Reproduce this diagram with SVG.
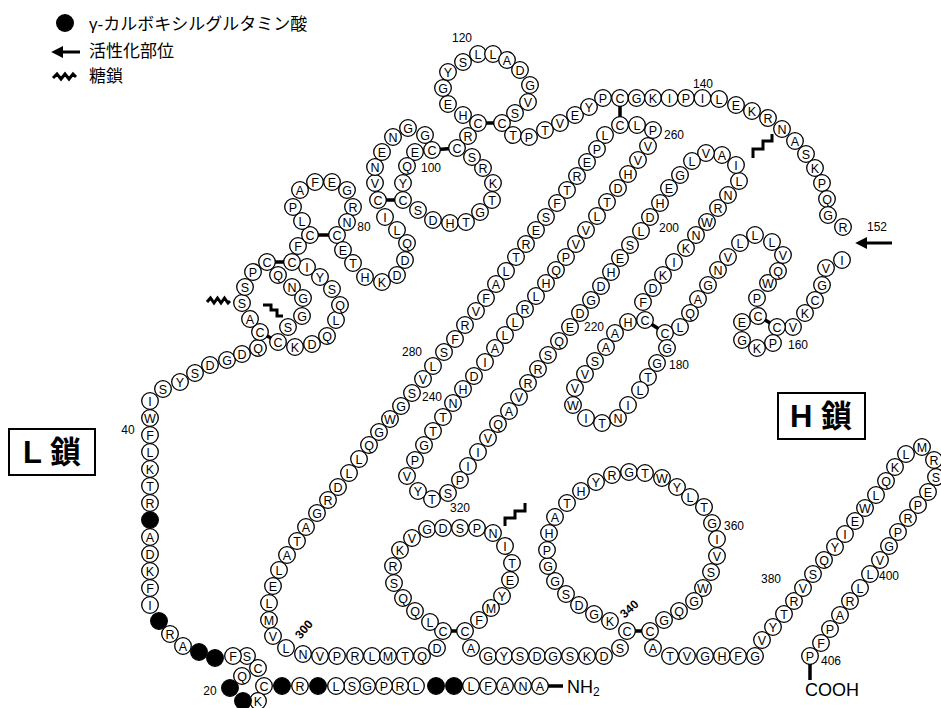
<svg xmlns="http://www.w3.org/2000/svg" width="941" height="708" viewBox="0 0 941 708">
<style>
.res circle{fill:#fff;stroke:#000;stroke-width:1.3}
.res .gla circle{fill:#000}
.res text{font-family:"Liberation Sans",Arial,sans-serif;font-size:12.5px;text-anchor:middle;fill:#000}
.lbl{font-family:"Liberation Sans",Arial,sans-serif;font-size:12px;fill:#000;text-anchor:middle}
.leg{font-family:"Liberation Sans","Noto Sans CJK JP",sans-serif;font-size:17px;fill:#000}
.box{fill:none;stroke:#000;stroke-width:2}
.boxt{font-family:"Liberation Sans","Noto Sans CJK JP",sans-serif;font-size:31px;font-weight:bold;text-anchor:middle}
.ss{stroke:#000;stroke-width:3.5}
.gly{fill:none;stroke:#000;stroke-width:3}
.end{font-family:"Liberation Sans",Arial,sans-serif;font-size:18px}
</style>
<defs>
<marker id="ah" viewBox="0 0 10 10" refX="1" refY="5" markerWidth="4" markerHeight="4" orient="auto-start-reverse"><path d="M0,0 L10,5 L0,10 z" fill="#000"/></marker>
</defs>
<g id="legend">
<circle cx="65" cy="23" r="9" fill="#000"/>
<text class="leg" x="89" y="30">γ-カルボキシルグルタミン酸</text>
<line x1="80" y1="52" x2="62" y2="52" stroke="#000" stroke-width="3" marker-end="url(#ah)"/>
<text class="leg" x="89" y="57">活性化部位</text>
<path class="gly" d="M53,78 l4,-4 l4,5 l4,-5 l4,5 l4,-5 l3,3" stroke-width="2.5"/>
<text class="leg" x="89" y="82">糖鎖</text>
</g>
<g id="L-box"><rect class="box" x="9" y="429" width="86" height="46"/><text class="boxt" x="52" y="463">L 鎖</text></g>
<g id="H-box"><rect class="box" x="778" y="393" width="87" height="46"/><text class="boxt" x="821" y="427">H 鎖</text></g>
<g id="connectors">
<line class="ss" x1="260" y1="332" x2="278" y2="342"/>
<line class="ss" x1="267" y1="262" x2="292" y2="262"/>
<line class="ss" x1="310" y1="235" x2="337" y2="235"/>
<line class="ss" x1="378" y1="200" x2="403" y2="200"/>
<line class="ss" x1="432" y1="150" x2="457" y2="148"/>
<line class="ss" x1="478" y1="123" x2="502" y2="123"/>
<line class="ss" x1="620" y1="98" x2="620" y2="125"/>
<line class="ss" x1="777" y1="327" x2="758" y2="316"/>
<line class="ss" x1="665" y1="333" x2="645" y2="320"/>
<line class="ss" x1="443" y1="631" x2="465" y2="631"/>
<line class="ss" x1="627" y1="631" x2="650" y2="631"/>
<line class="ss" x1="546" y1="686" x2="563" y2="686"/>
<line class="ss" x1="810" y1="663" x2="810" y2="680"/>
<line x1="892" y1="243" x2="866" y2="243" stroke="#000" stroke-width="3" marker-end="url(#ah)"/>
</g>
<g id="glycans">
<path class="gly" d="M207,302 l3.5,-4 l3.5,5 l3.5,-5 l3.5,5 l3.5,-5 l3.5,5 l2,-2" stroke-width="2.5"/>
<path class="gly" d="M263,305 H271 V310 H277 V316 H283"/>
<path class="gly" d="M753,158 V149 H763 V141 H772 V134"/>
<path class="gly" d="M505,526 V518 H515 V511 H525 V503"/>
</g>
<g id="ends">
<text class="end" x="567" y="693">NH<tspan font-size="12" dy="3">2</tspan></text>
<text class="end" x="805" y="696">COOH</text>
</g>
<g id="labels" class="lbl">
<text x="462" y="42">120</text>
<text x="703" y="88">140</text>
<text x="877" y="231">152</text>
<text x="798" y="349">160</text>
<text x="679" y="369">180</text>
<text x="669" y="232">200</text>
<text x="594" y="331">220</text>
<text x="432" y="401">240</text>
<text x="674" y="139">260</text>
<text x="412" y="356">280</text>
<text x="0" y="0" transform="translate(307,632) rotate(-50)" font-weight="bold">300</text>
<text x="460" y="512">320</text>
<text x="0" y="0" transform="translate(632,612) rotate(-42)" font-weight="bold">340</text>
<text x="734" y="530">360</text>
<text x="771" y="583">380</text>
<text x="889" y="580">400</text>
<text x="831" y="665">406</text>
<text x="431" y="172">100</text>
<text x="364" y="231">80</text>
<text x="128" y="434">40</text>
<text x="210" y="695">20</text>
</g>
<g id="residues" class="res">
<g id="r1"><circle cx="540" cy="686" r="8.3"/><text x="540" y="690.5">A</text></g>
<g id="r2"><circle cx="523" cy="686" r="8.3"/><text x="523" y="690.5">N</text></g>
<g id="r3"><circle cx="505" cy="686" r="8.3"/><text x="505" y="690.5">A</text></g>
<g id="r4"><circle cx="488" cy="686" r="8.3"/><text x="488" y="690.5">F</text></g>
<g id="r5"><circle cx="471" cy="686" r="8.3"/><text x="471" y="690.5">L</text></g>
<g id="r6" class="gla"><circle cx="454" cy="686" r="8.3"/></g>
<g id="r7" class="gla"><circle cx="436" cy="686" r="8.3"/></g>
<g id="r8"><circle cx="416" cy="686" r="8.3"/><text x="416" y="690.5">L</text></g>
<g id="r9"><circle cx="400" cy="686" r="8.3"/><text x="400" y="690.5">R</text></g>
<g id="r10"><circle cx="384" cy="686" r="8.3"/><text x="384" y="690.5">P</text></g>
<g id="r11"><circle cx="367" cy="686" r="8.3"/><text x="367" y="690.5">G</text></g>
<g id="r12"><circle cx="352" cy="686" r="8.3"/><text x="352" y="690.5">S</text></g>
<g id="r13"><circle cx="336" cy="686" r="8.3"/><text x="336" y="690.5">L</text></g>
<g id="r14" class="gla"><circle cx="318" cy="686" r="8.3"/></g>
<g id="r15"><circle cx="300" cy="686" r="8.3"/><text x="300" y="690.5">R</text></g>
<g id="r16" class="gla"><circle cx="282" cy="686" r="8.3"/></g>
<g id="r17"><circle cx="264" cy="686" r="8.3"/><text x="264" y="690.5">C</text></g>
<g id="r18"><circle cx="258" cy="701" r="8.3"/><text x="258" y="705.5">K</text></g>
<g id="r19" class="gla"><circle cx="243" cy="701" r="8.3"/></g>
<g id="r20" class="gla"><circle cx="230" cy="688" r="8.3"/></g>
<g id="r21"><circle cx="242" cy="676" r="8.3"/><text x="242" y="680.5">Q</text></g>
<g id="r22"><circle cx="258" cy="668" r="8.3"/><text x="258" y="672.5">C</text></g>
<g id="r23"><circle cx="247" cy="656" r="8.3"/><text x="247" y="660.5">S</text></g>
<g id="r24"><circle cx="233" cy="656" r="8.3"/><text x="233" y="660.5">F</text></g>
<g id="r25" class="gla"><circle cx="215" cy="658" r="8.3"/></g>
<g id="r26" class="gla"><circle cx="199" cy="652" r="8.3"/></g>
<g id="r27"><circle cx="183" cy="646" r="8.3"/><text x="183" y="650.5">A</text></g>
<g id="r28"><circle cx="170" cy="634" r="8.3"/><text x="170" y="638.5">R</text></g>
<g id="r29" class="gla"><circle cx="159" cy="621" r="8.3"/></g>
<g id="r30"><circle cx="150" cy="605" r="8.3"/><text x="150" y="609.5">I</text></g>
<g id="r31"><circle cx="150" cy="588" r="8.3"/><text x="150" y="592.5">F</text></g>
<g id="r32"><circle cx="150" cy="571" r="8.3"/><text x="150" y="575.5">K</text></g>
<g id="r33"><circle cx="150" cy="554" r="8.3"/><text x="150" y="558.5">D</text></g>
<g id="r34"><circle cx="150" cy="537" r="8.3"/><text x="150" y="541.5">A</text></g>
<g id="r35" class="gla"><circle cx="150" cy="520" r="8.3"/></g>
<g id="r36"><circle cx="150" cy="503" r="8.3"/><text x="150" y="507.5">R</text></g>
<g id="r37"><circle cx="150" cy="486" r="8.3"/><text x="150" y="490.5">T</text></g>
<g id="r38"><circle cx="150" cy="469" r="8.3"/><text x="150" y="473.5">K</text></g>
<g id="r39"><circle cx="150" cy="452" r="8.3"/><text x="150" y="456.5">L</text></g>
<g id="r40"><circle cx="150" cy="435" r="8.3"/><text x="150" y="439.5">F</text></g>
<g id="r41"><circle cx="150" cy="418" r="8.3"/><text x="150" y="422.5">W</text></g>
<g id="r42"><circle cx="150" cy="401" r="8.3"/><text x="150" y="405.5">I</text></g>
<g id="r43"><circle cx="163" cy="389" r="8.3"/><text x="163" y="393.5">S</text></g>
<g id="r44"><circle cx="180" cy="382" r="8.3"/><text x="180" y="386.5">Y</text></g>
<g id="r45"><circle cx="195" cy="373" r="8.3"/><text x="195" y="377.5">S</text></g>
<g id="r46"><circle cx="210" cy="365" r="8.3"/><text x="210" y="369.5">D</text></g>
<g id="r47"><circle cx="227" cy="360" r="8.3"/><text x="227" y="364.5">G</text></g>
<g id="r48"><circle cx="242" cy="354" r="8.3"/><text x="242" y="358.5">D</text></g>
<g id="r49"><circle cx="258" cy="348" r="8.3"/><text x="258" y="352.5">Q</text></g>
<g id="r50"><circle cx="260" cy="332" r="8.3"/><text x="260" y="336.5">C</text></g>
<g id="r51"><circle cx="250" cy="319" r="8.3"/><text x="250" y="323.5">A</text></g>
<g id="r52"><circle cx="242" cy="303" r="8.3"/><text x="242" y="307.5">S</text></g>
<g id="r53"><circle cx="245" cy="287" r="8.3"/><text x="245" y="291.5">S</text></g>
<g id="r54"><circle cx="253" cy="272" r="8.3"/><text x="253" y="276.5">P</text></g>
<g id="r55"><circle cx="267" cy="262" r="8.3"/><text x="267" y="266.5">C</text></g>
<g id="r56"><circle cx="278" cy="275" r="8.3"/><text x="278" y="279.5">Q</text></g>
<g id="r57"><circle cx="292" cy="287" r="8.3"/><text x="292" y="291.5">N</text></g>
<g id="r58"><circle cx="303" cy="298" r="8.3"/><text x="303" y="302.5">G</text></g>
<g id="r59"><circle cx="302" cy="316" r="8.3"/><text x="302" y="320.5">G</text></g>
<g id="r60"><circle cx="288" cy="327" r="8.3"/><text x="288" y="331.5">S</text></g>
<g id="r61"><circle cx="278" cy="342" r="8.3"/><text x="278" y="346.5">C</text></g>
<g id="r62"><circle cx="295" cy="347" r="8.3"/><text x="295" y="351.5">K</text></g>
<g id="r63"><circle cx="312" cy="344" r="8.3"/><text x="312" y="348.5">D</text></g>
<g id="r64"><circle cx="327" cy="336" r="8.3"/><text x="327" y="340.5">Q</text></g>
<g id="r65"><circle cx="336" cy="320" r="8.3"/><text x="336" y="324.5">L</text></g>
<g id="r66"><circle cx="340" cy="305" r="8.3"/><text x="340" y="309.5">Q</text></g>
<g id="r67"><circle cx="332" cy="289" r="8.3"/><text x="332" y="293.5">S</text></g>
<g id="r68"><circle cx="320" cy="277" r="8.3"/><text x="320" y="281.5">Y</text></g>
<g id="r69"><circle cx="307" cy="267" r="8.3"/><text x="307" y="271.5">I</text></g>
<g id="r70"><circle cx="292" cy="262" r="8.3"/><text x="292" y="266.5">C</text></g>
<g id="r71"><circle cx="298" cy="246" r="8.3"/><text x="298" y="250.5">F</text></g>
<g id="r72"><circle cx="310" cy="235" r="8.3"/><text x="310" y="239.5">C</text></g>
<g id="r73"><circle cx="302" cy="221" r="8.3"/><text x="302" y="225.5">L</text></g>
<g id="r74"><circle cx="293" cy="207" r="8.3"/><text x="293" y="211.5">P</text></g>
<g id="r75"><circle cx="300" cy="190" r="8.3"/><text x="300" y="194.5">A</text></g>
<g id="r76"><circle cx="315" cy="182" r="8.3"/><text x="315" y="186.5">F</text></g>
<g id="r77"><circle cx="332" cy="182" r="8.3"/><text x="332" y="186.5">E</text></g>
<g id="r78"><circle cx="347" cy="190" r="8.3"/><text x="347" y="194.5">G</text></g>
<g id="r79"><circle cx="353" cy="207" r="8.3"/><text x="353" y="211.5">R</text></g>
<g id="r80"><circle cx="347" cy="222" r="8.3"/><text x="347" y="226.5">N</text></g>
<g id="r81"><circle cx="337" cy="235" r="8.3"/><text x="337" y="239.5">C</text></g>
<g id="r82"><circle cx="343" cy="250" r="8.3"/><text x="343" y="254.5">E</text></g>
<g id="r83"><circle cx="353" cy="263" r="8.3"/><text x="353" y="267.5">T</text></g>
<g id="r84"><circle cx="365" cy="277" r="8.3"/><text x="365" y="281.5">H</text></g>
<g id="r85"><circle cx="382" cy="282" r="8.3"/><text x="382" y="286.5">K</text></g>
<g id="r86"><circle cx="397" cy="275" r="8.3"/><text x="397" y="279.5">D</text></g>
<g id="r87"><circle cx="405" cy="260" r="8.3"/><text x="405" y="264.5">D</text></g>
<g id="r88"><circle cx="407" cy="243" r="8.3"/><text x="407" y="247.5">Q</text></g>
<g id="r89"><circle cx="397" cy="230" r="8.3"/><text x="397" y="234.5">L</text></g>
<g id="r90"><circle cx="385" cy="217" r="8.3"/><text x="385" y="221.5">I</text></g>
<g id="r91"><circle cx="378" cy="200" r="8.3"/><text x="378" y="204.5">C</text></g>
<g id="r92"><circle cx="375" cy="183" r="8.3"/><text x="375" y="187.5">V</text></g>
<g id="r93"><circle cx="375" cy="167" r="8.3"/><text x="375" y="171.5">N</text></g>
<g id="r94"><circle cx="382" cy="152" r="8.3"/><text x="382" y="156.5">E</text></g>
<g id="r95"><circle cx="393" cy="137" r="8.3"/><text x="393" y="141.5">N</text></g>
<g id="r96"><circle cx="408" cy="128" r="8.3"/><text x="408" y="132.5">G</text></g>
<g id="r97"><circle cx="425" cy="135" r="8.3"/><text x="425" y="139.5">G</text></g>
<g id="r98"><circle cx="432" cy="150" r="8.3"/><text x="432" y="154.5">C</text></g>
<g id="r99"><circle cx="415" cy="152" r="8.3"/><text x="415" y="156.5">E</text></g>
<g id="r100"><circle cx="407" cy="166" r="8.3"/><text x="407" y="170.5">Q</text></g>
<g id="r101"><circle cx="403" cy="183" r="8.3"/><text x="403" y="187.5">Y</text></g>
<g id="r102"><circle cx="403" cy="200" r="8.3"/><text x="403" y="204.5">C</text></g>
<g id="r103"><circle cx="418" cy="210" r="8.3"/><text x="418" y="214.5">S</text></g>
<g id="r104"><circle cx="433" cy="220" r="8.3"/><text x="433" y="224.5">D</text></g>
<g id="r105"><circle cx="450" cy="223" r="8.3"/><text x="450" y="227.5">H</text></g>
<g id="r106"><circle cx="466" cy="222" r="8.3"/><text x="466" y="226.5">T</text></g>
<g id="r107"><circle cx="480" cy="212" r="8.3"/><text x="480" y="216.5">G</text></g>
<g id="r108"><circle cx="492" cy="200" r="8.3"/><text x="492" y="204.5">T</text></g>
<g id="r109"><circle cx="493" cy="183" r="8.3"/><text x="493" y="187.5">K</text></g>
<g id="r110"><circle cx="483" cy="168" r="8.3"/><text x="483" y="172.5">R</text></g>
<g id="r111"><circle cx="472" cy="157" r="8.3"/><text x="472" y="161.5">S</text></g>
<g id="r112"><circle cx="457" cy="148" r="8.3"/><text x="457" y="152.5">C</text></g>
<g id="r113"><circle cx="468" cy="136" r="8.3"/><text x="468" y="140.5">R</text></g>
<g id="r114"><circle cx="478" cy="123" r="8.3"/><text x="478" y="127.5">C</text></g>
<g id="r115"><circle cx="463" cy="115" r="8.3"/><text x="463" y="119.5">H</text></g>
<g id="r116"><circle cx="448" cy="104" r="8.3"/><text x="448" y="108.5">E</text></g>
<g id="r117"><circle cx="443" cy="88" r="8.3"/><text x="443" y="92.5">G</text></g>
<g id="r118"><circle cx="448" cy="72" r="8.3"/><text x="448" y="76.5">Y</text></g>
<g id="r119"><circle cx="463" cy="62" r="8.3"/><text x="463" y="66.5">S</text></g>
<g id="r120"><circle cx="478" cy="54" r="8.3"/><text x="478" y="58.5">L</text></g>
<g id="r121"><circle cx="493" cy="54" r="8.3"/><text x="493" y="58.5">L</text></g>
<g id="r122"><circle cx="507" cy="60" r="8.3"/><text x="507" y="64.5">A</text></g>
<g id="r123"><circle cx="520" cy="70" r="8.3"/><text x="520" y="74.5">D</text></g>
<g id="r124"><circle cx="530" cy="85" r="8.3"/><text x="530" y="89.5">G</text></g>
<g id="r125"><circle cx="528" cy="102" r="8.3"/><text x="528" y="106.5">V</text></g>
<g id="r126"><circle cx="515" cy="113" r="8.3"/><text x="515" y="117.5">S</text></g>
<g id="r127"><circle cx="502" cy="123" r="8.3"/><text x="502" y="127.5">C</text></g>
<g id="r128"><circle cx="513" cy="135" r="8.3"/><text x="513" y="139.5">T</text></g>
<g id="r129"><circle cx="529" cy="137" r="8.3"/><text x="529" y="141.5">P</text></g>
<g id="r130"><circle cx="545" cy="130" r="8.3"/><text x="545" y="134.5">T</text></g>
<g id="r131"><circle cx="560" cy="123" r="8.3"/><text x="560" y="127.5">V</text></g>
<g id="r132"><circle cx="575" cy="115" r="8.3"/><text x="575" y="119.5">E</text></g>
<g id="r133"><circle cx="589" cy="107" r="8.3"/><text x="589" y="111.5">Y</text></g>
<g id="r134"><circle cx="603" cy="98" r="8.3"/><text x="603" y="102.5">P</text></g>
<g id="r135"><circle cx="620" cy="98" r="8.3"/><text x="620" y="102.5">C</text></g>
<g id="r136"><circle cx="636.5" cy="98" r="8.3"/><text x="636.5" y="102.5">G</text></g>
<g id="r137"><circle cx="653" cy="98" r="8.3"/><text x="653" y="102.5">K</text></g>
<g id="r138"><circle cx="669.5" cy="98" r="8.3"/><text x="669.5" y="102.5">I</text></g>
<g id="r139"><circle cx="686" cy="98" r="8.3"/><text x="686" y="102.5">P</text></g>
<g id="r140"><circle cx="702.5" cy="98" r="8.3"/><text x="702.5" y="102.5">I</text></g>
<g id="r141"><circle cx="719" cy="99" r="8.3"/><text x="719" y="103.5">L</text></g>
<g id="r142"><circle cx="736" cy="105" r="8.3"/><text x="736" y="109.5">E</text></g>
<g id="r143"><circle cx="752" cy="111" r="8.3"/><text x="752" y="115.5">K</text></g>
<g id="r144"><circle cx="768" cy="118" r="8.3"/><text x="768" y="122.5">R</text></g>
<g id="r145"><circle cx="782" cy="129" r="8.3"/><text x="782" y="133.5">N</text></g>
<g id="r146"><circle cx="795" cy="141" r="8.3"/><text x="795" y="145.5">A</text></g>
<g id="r147"><circle cx="806" cy="154" r="8.3"/><text x="806" y="158.5">S</text></g>
<g id="r148"><circle cx="815" cy="168" r="8.3"/><text x="815" y="172.5">K</text></g>
<g id="r149"><circle cx="822" cy="183" r="8.3"/><text x="822" y="187.5">P</text></g>
<g id="r150"><circle cx="827" cy="199" r="8.3"/><text x="827" y="203.5">Q</text></g>
<g id="r151"><circle cx="828" cy="215" r="8.3"/><text x="828" y="219.5">G</text></g>
<g id="r152"><circle cx="843" cy="227" r="8.3"/><text x="843" y="231.5">R</text></g>
<g id="r153"><circle cx="842" cy="260" r="8.3"/><text x="842" y="264.5">I</text></g>
<g id="r154"><circle cx="826" cy="268" r="8.3"/><text x="826" y="272.5">V</text></g>
<g id="r155"><circle cx="822" cy="285" r="8.3"/><text x="822" y="289.5">G</text></g>
<g id="r156"><circle cx="815" cy="300" r="8.3"/><text x="815" y="304.5">C</text></g>
<g id="r157"><circle cx="805" cy="313" r="8.3"/><text x="805" y="317.5">K</text></g>
<g id="r158"><circle cx="793" cy="327" r="8.3"/><text x="793" y="331.5">V</text></g>
<g id="r159"><circle cx="777" cy="327" r="8.3"/><text x="777" y="331.5">C</text></g>
<g id="r160"><circle cx="773" cy="343" r="8.3"/><text x="773" y="347.5">P</text></g>
<g id="r161"><circle cx="757" cy="348" r="8.3"/><text x="757" y="352.5">K</text></g>
<g id="r162"><circle cx="742" cy="340" r="8.3"/><text x="742" y="344.5">G</text></g>
<g id="r163"><circle cx="742" cy="322" r="8.3"/><text x="742" y="326.5">E</text></g>
<g id="r164"><circle cx="758" cy="316" r="8.3"/><text x="758" y="320.5">C</text></g>
<g id="r165"><circle cx="757" cy="298" r="8.3"/><text x="757" y="302.5">P</text></g>
<g id="r166"><circle cx="768" cy="283" r="8.3"/><text x="768" y="287.5">W</text></g>
<g id="r167"><circle cx="778" cy="271" r="8.3"/><text x="778" y="275.5">Q</text></g>
<g id="r168"><circle cx="783" cy="255" r="8.3"/><text x="783" y="259.5">V</text></g>
<g id="r169"><circle cx="772" cy="242" r="8.3"/><text x="772" y="246.5">L</text></g>
<g id="r170"><circle cx="755" cy="235" r="8.3"/><text x="755" y="239.5">L</text></g>
<g id="r171"><circle cx="740" cy="243" r="8.3"/><text x="740" y="247.5">L</text></g>
<g id="r172"><circle cx="728" cy="257" r="8.3"/><text x="728" y="261.5">V</text></g>
<g id="r173"><circle cx="718" cy="270" r="8.3"/><text x="718" y="274.5">N</text></g>
<g id="r174"><circle cx="708" cy="285" r="8.3"/><text x="708" y="289.5">G</text></g>
<g id="r175"><circle cx="698" cy="299" r="8.3"/><text x="698" y="303.5">A</text></g>
<g id="r176"><circle cx="690" cy="313" r="8.3"/><text x="690" y="317.5">Q</text></g>
<g id="r177"><circle cx="680" cy="327" r="8.3"/><text x="680" y="331.5">L</text></g>
<g id="r178"><circle cx="665" cy="333" r="8.3"/><text x="665" y="337.5">C</text></g>
<g id="r179"><circle cx="667" cy="348" r="8.3"/><text x="667" y="352.5">G</text></g>
<g id="r180"><circle cx="657" cy="363" r="8.3"/><text x="657" y="367.5">G</text></g>
<g id="r181"><circle cx="648" cy="377" r="8.3"/><text x="648" y="381.5">T</text></g>
<g id="r182"><circle cx="640" cy="390" r="8.3"/><text x="640" y="394.5">L</text></g>
<g id="r183"><circle cx="628" cy="405" r="8.3"/><text x="628" y="409.5">I</text></g>
<g id="r184"><circle cx="618" cy="418" r="8.3"/><text x="618" y="422.5">N</text></g>
<g id="r185"><circle cx="602" cy="423" r="8.3"/><text x="602" y="427.5">T</text></g>
<g id="r186"><circle cx="586" cy="418" r="8.3"/><text x="586" y="422.5">I</text></g>
<g id="r187"><circle cx="573" cy="405" r="8.3"/><text x="573" y="409.5">W</text></g>
<g id="r188"><circle cx="575" cy="388" r="8.3"/><text x="575" y="392.5">V</text></g>
<g id="r189"><circle cx="585" cy="374" r="8.3"/><text x="585" y="378.5">V</text></g>
<g id="r190"><circle cx="595" cy="361" r="8.3"/><text x="595" y="365.5">S</text></g>
<g id="r191"><circle cx="606" cy="347" r="8.3"/><text x="606" y="351.5">A</text></g>
<g id="r192"><circle cx="615" cy="333" r="8.3"/><text x="615" y="337.5">A</text></g>
<g id="r193"><circle cx="628" cy="322" r="8.3"/><text x="628" y="326.5">H</text></g>
<g id="r194"><circle cx="645" cy="320" r="8.3"/><text x="645" y="324.5">C</text></g>
<g id="r195"><circle cx="643" cy="302" r="8.3"/><text x="643" y="306.5">F</text></g>
<g id="r196"><circle cx="653" cy="288" r="8.3"/><text x="653" y="292.5">D</text></g>
<g id="r197"><circle cx="663" cy="275" r="8.3"/><text x="663" y="279.5">K</text></g>
<g id="r198"><circle cx="674" cy="262" r="8.3"/><text x="674" y="266.5">I</text></g>
<g id="r199"><circle cx="686" cy="248" r="8.3"/><text x="686" y="252.5">K</text></g>
<g id="r200"><circle cx="696" cy="235" r="8.3"/><text x="696" y="239.5">N</text></g>
<g id="r201"><circle cx="707" cy="222" r="8.3"/><text x="707" y="226.5">W</text></g>
<g id="r202"><circle cx="718" cy="208" r="8.3"/><text x="718" y="212.5">R</text></g>
<g id="r203"><circle cx="728" cy="195" r="8.3"/><text x="728" y="199.5">N</text></g>
<g id="r204"><circle cx="739" cy="181" r="8.3"/><text x="739" y="185.5">L</text></g>
<g id="r205"><circle cx="736" cy="165" r="8.3"/><text x="736" y="169.5">I</text></g>
<g id="r206"><circle cx="722" cy="155" r="8.3"/><text x="722" y="159.5">A</text></g>
<g id="r207"><circle cx="706" cy="153" r="8.3"/><text x="706" y="157.5">V</text></g>
<g id="r208"><circle cx="692" cy="161" r="8.3"/><text x="692" y="165.5">L</text></g>
<g id="r209"><circle cx="680" cy="175" r="8.3"/><text x="680" y="179.5">G</text></g>
<g id="r210"><circle cx="669" cy="188" r="8.3"/><text x="669" y="192.5">E</text></g>
<g id="r211"><circle cx="660" cy="203" r="8.3"/><text x="660" y="207.5">H</text></g>
<g id="r212"><circle cx="650" cy="217" r="8.3"/><text x="650" y="221.5">D</text></g>
<g id="r213"><circle cx="641" cy="231" r="8.3"/><text x="641" y="235.5">L</text></g>
<g id="r214"><circle cx="630" cy="245" r="8.3"/><text x="630" y="249.5">S</text></g>
<g id="r215"><circle cx="620" cy="258" r="8.3"/><text x="620" y="262.5">E</text></g>
<g id="r216"><circle cx="611" cy="272" r="8.3"/><text x="611" y="276.5">H</text></g>
<g id="r217"><circle cx="601" cy="286" r="8.3"/><text x="601" y="290.5">D</text></g>
<g id="r218"><circle cx="591" cy="300" r="8.3"/><text x="591" y="304.5">G</text></g>
<g id="r219"><circle cx="580" cy="313" r="8.3"/><text x="580" y="317.5">D</text></g>
<g id="r220"><circle cx="570" cy="327" r="8.3"/><text x="570" y="331.5">E</text></g>
<g id="r221"><circle cx="559" cy="341" r="8.3"/><text x="559" y="345.5">Q</text></g>
<g id="r222"><circle cx="548" cy="355" r="8.3"/><text x="548" y="359.5">S</text></g>
<g id="r223"><circle cx="538" cy="369" r="8.3"/><text x="538" y="373.5">R</text></g>
<g id="r224"><circle cx="528" cy="383" r="8.3"/><text x="528" y="387.5">R</text></g>
<g id="r225"><circle cx="519" cy="397" r="8.3"/><text x="519" y="401.5">V</text></g>
<g id="r226"><circle cx="509" cy="411" r="8.3"/><text x="509" y="415.5">A</text></g>
<g id="r227"><circle cx="498" cy="424" r="8.3"/><text x="498" y="428.5">Q</text></g>
<g id="r228"><circle cx="488" cy="438" r="8.3"/><text x="488" y="442.5">V</text></g>
<g id="r229"><circle cx="478" cy="452" r="8.3"/><text x="478" y="456.5">I</text></g>
<g id="r230"><circle cx="468" cy="466" r="8.3"/><text x="468" y="470.5">I</text></g>
<g id="r231"><circle cx="460" cy="480" r="8.3"/><text x="460" y="484.5">P</text></g>
<g id="r232"><circle cx="448" cy="493" r="8.3"/><text x="448" y="497.5">S</text></g>
<g id="r233"><circle cx="432" cy="499" r="8.3"/><text x="432" y="503.5">T</text></g>
<g id="r234"><circle cx="418" cy="491" r="8.3"/><text x="418" y="495.5">Y</text></g>
<g id="r235"><circle cx="407" cy="476" r="8.3"/><text x="407" y="480.5">V</text></g>
<g id="r236"><circle cx="415" cy="460" r="8.3"/><text x="415" y="464.5">P</text></g>
<g id="r237"><circle cx="424" cy="445" r="8.3"/><text x="424" y="449.5">G</text></g>
<g id="r238"><circle cx="433" cy="431" r="8.3"/><text x="433" y="435.5">T</text></g>
<g id="r239"><circle cx="443" cy="417" r="8.3"/><text x="443" y="421.5">T</text></g>
<g id="r240"><circle cx="453" cy="403" r="8.3"/><text x="453" y="407.5">N</text></g>
<g id="r241"><circle cx="463" cy="389" r="8.3"/><text x="463" y="393.5">H</text></g>
<g id="r242"><circle cx="474" cy="376" r="8.3"/><text x="474" y="380.5">D</text></g>
<g id="r243"><circle cx="485" cy="362" r="8.3"/><text x="485" y="366.5">I</text></g>
<g id="r244"><circle cx="495" cy="348" r="8.3"/><text x="495" y="352.5">A</text></g>
<g id="r245"><circle cx="505" cy="335" r="8.3"/><text x="505" y="339.5">L</text></g>
<g id="r246"><circle cx="515" cy="322" r="8.3"/><text x="515" y="326.5">L</text></g>
<g id="r247"><circle cx="525" cy="309" r="8.3"/><text x="525" y="313.5">R</text></g>
<g id="r248"><circle cx="536" cy="296" r="8.3"/><text x="536" y="300.5">L</text></g>
<g id="r249"><circle cx="546" cy="283" r="8.3"/><text x="546" y="287.5">H</text></g>
<g id="r250"><circle cx="556" cy="270" r="8.3"/><text x="556" y="274.5">Q</text></g>
<g id="r251"><circle cx="566" cy="257" r="8.3"/><text x="566" y="261.5">P</text></g>
<g id="r252"><circle cx="576" cy="244" r="8.3"/><text x="576" y="248.5">V</text></g>
<g id="r253"><circle cx="586" cy="230" r="8.3"/><text x="586" y="234.5">V</text></g>
<g id="r254"><circle cx="597" cy="216" r="8.3"/><text x="597" y="220.5">L</text></g>
<g id="r255"><circle cx="607" cy="202" r="8.3"/><text x="607" y="206.5">T</text></g>
<g id="r256"><circle cx="618" cy="188" r="8.3"/><text x="618" y="192.5">D</text></g>
<g id="r257"><circle cx="628" cy="174" r="8.3"/><text x="628" y="178.5">H</text></g>
<g id="r258"><circle cx="638" cy="160" r="8.3"/><text x="638" y="164.5">V</text></g>
<g id="r259"><circle cx="648" cy="146" r="8.3"/><text x="648" y="150.5">V</text></g>
<g id="r260"><circle cx="653" cy="130" r="8.3"/><text x="653" y="134.5">P</text></g>
<g id="r261"><circle cx="637" cy="125" r="8.3"/><text x="637" y="129.5">L</text></g>
<g id="r262"><circle cx="620" cy="125" r="8.3"/><text x="620" y="129.5">C</text></g>
<g id="r263"><circle cx="605" cy="135" r="8.3"/><text x="605" y="139.5">L</text></g>
<g id="r264"><circle cx="597" cy="149" r="8.3"/><text x="597" y="153.5">P</text></g>
<g id="r265"><circle cx="587" cy="162" r="8.3"/><text x="587" y="166.5">E</text></g>
<g id="r266"><circle cx="577" cy="176" r="8.3"/><text x="577" y="180.5">R</text></g>
<g id="r267"><circle cx="567" cy="190" r="8.3"/><text x="567" y="194.5">T</text></g>
<g id="r268"><circle cx="557" cy="203" r="8.3"/><text x="557" y="207.5">F</text></g>
<g id="r269"><circle cx="546" cy="217" r="8.3"/><text x="546" y="221.5">S</text></g>
<g id="r270"><circle cx="536" cy="230" r="8.3"/><text x="536" y="234.5">E</text></g>
<g id="r271"><circle cx="526" cy="244" r="8.3"/><text x="526" y="248.5">R</text></g>
<g id="r272"><circle cx="516" cy="257" r="8.3"/><text x="516" y="261.5">T</text></g>
<g id="r273"><circle cx="506" cy="271" r="8.3"/><text x="506" y="275.5">L</text></g>
<g id="r274"><circle cx="496" cy="284" r="8.3"/><text x="496" y="288.5">A</text></g>
<g id="r275"><circle cx="486" cy="298" r="8.3"/><text x="486" y="302.5">F</text></g>
<g id="r276"><circle cx="476" cy="311" r="8.3"/><text x="476" y="315.5">V</text></g>
<g id="r277"><circle cx="465" cy="325" r="8.3"/><text x="465" y="329.5">R</text></g>
<g id="r278"><circle cx="455" cy="339" r="8.3"/><text x="455" y="343.5">F</text></g>
<g id="r279"><circle cx="444" cy="352" r="8.3"/><text x="444" y="356.5">S</text></g>
<g id="r280"><circle cx="433" cy="366" r="8.3"/><text x="433" y="370.5">L</text></g>
<g id="r281"><circle cx="423" cy="379" r="8.3"/><text x="423" y="383.5">V</text></g>
<g id="r282"><circle cx="412" cy="393" r="8.3"/><text x="412" y="397.5">S</text></g>
<g id="r283"><circle cx="401" cy="406" r="8.3"/><text x="401" y="410.5">G</text></g>
<g id="r284"><circle cx="390" cy="419" r="8.3"/><text x="390" y="423.5">W</text></g>
<g id="r285"><circle cx="379" cy="432" r="8.3"/><text x="379" y="436.5">G</text></g>
<g id="r286"><circle cx="369" cy="445" r="8.3"/><text x="369" y="449.5">Q</text></g>
<g id="r287"><circle cx="359" cy="459" r="8.3"/><text x="359" y="463.5">L</text></g>
<g id="r288"><circle cx="349" cy="473" r="8.3"/><text x="349" y="477.5">L</text></g>
<g id="r289"><circle cx="338" cy="487" r="8.3"/><text x="338" y="491.5">D</text></g>
<g id="r290"><circle cx="328" cy="500" r="8.3"/><text x="328" y="504.5">R</text></g>
<g id="r291"><circle cx="317" cy="513" r="8.3"/><text x="317" y="517.5">G</text></g>
<g id="r292"><circle cx="306" cy="527" r="8.3"/><text x="306" y="531.5">A</text></g>
<g id="r293"><circle cx="297" cy="541" r="8.3"/><text x="297" y="545.5">T</text></g>
<g id="r294"><circle cx="287" cy="555" r="8.3"/><text x="287" y="559.5">A</text></g>
<g id="r295"><circle cx="279" cy="570" r="8.3"/><text x="279" y="574.5">L</text></g>
<g id="r296"><circle cx="273" cy="586" r="8.3"/><text x="273" y="590.5">E</text></g>
<g id="r297"><circle cx="269" cy="603" r="8.3"/><text x="269" y="607.5">L</text></g>
<g id="r298"><circle cx="269" cy="620" r="8.3"/><text x="269" y="624.5">M</text></g>
<g id="r299"><circle cx="273" cy="636" r="8.3"/><text x="273" y="640.5">V</text></g>
<g id="r300"><circle cx="286" cy="648" r="8.3"/><text x="286" y="652.5">L</text></g>
<g id="r301"><circle cx="303" cy="654" r="8.3"/><text x="303" y="658.5">N</text></g>
<g id="r302"><circle cx="320" cy="656" r="8.3"/><text x="320" y="660.5">V</text></g>
<g id="r303"><circle cx="337" cy="656" r="8.3"/><text x="337" y="660.5">P</text></g>
<g id="r304"><circle cx="355" cy="656" r="8.3"/><text x="355" y="660.5">R</text></g>
<g id="r305"><circle cx="372" cy="656" r="8.3"/><text x="372" y="660.5">L</text></g>
<g id="r306"><circle cx="388" cy="656" r="8.3"/><text x="388" y="660.5">M</text></g>
<g id="r307"><circle cx="405" cy="656" r="8.3"/><text x="405" y="660.5">T</text></g>
<g id="r308"><circle cx="422" cy="656" r="8.3"/><text x="422" y="660.5">Q</text></g>
<g id="r309"><circle cx="437" cy="648" r="8.3"/><text x="437" y="652.5">D</text></g>
<g id="r310"><circle cx="443" cy="631" r="8.3"/><text x="443" y="635.5">C</text></g>
<g id="r311"><circle cx="430" cy="622" r="8.3"/><text x="430" y="626.5">L</text></g>
<g id="r312"><circle cx="415" cy="611" r="8.3"/><text x="415" y="615.5">Q</text></g>
<g id="r313"><circle cx="403" cy="598" r="8.3"/><text x="403" y="602.5">Q</text></g>
<g id="r314"><circle cx="394" cy="583" r="8.3"/><text x="394" y="587.5">S</text></g>
<g id="r315"><circle cx="393" cy="566" r="8.3"/><text x="393" y="570.5">R</text></g>
<g id="r316"><circle cx="400" cy="550" r="8.3"/><text x="400" y="554.5">K</text></g>
<g id="r317"><circle cx="412" cy="538" r="8.3"/><text x="412" y="542.5">V</text></g>
<g id="r318"><circle cx="427" cy="529" r="8.3"/><text x="427" y="533.5">G</text></g>
<g id="r319"><circle cx="443" cy="528" r="8.3"/><text x="443" y="532.5">D</text></g>
<g id="r320"><circle cx="460" cy="528" r="8.3"/><text x="460" y="532.5">S</text></g>
<g id="r321"><circle cx="477" cy="528" r="8.3"/><text x="477" y="532.5">P</text></g>
<g id="r322"><circle cx="493" cy="533" r="8.3"/><text x="493" y="537.5">N</text></g>
<g id="r323"><circle cx="505" cy="546" r="8.3"/><text x="505" y="550.5">I</text></g>
<g id="r324"><circle cx="512" cy="563" r="8.3"/><text x="512" y="567.5">T</text></g>
<g id="r325"><circle cx="510" cy="580" r="8.3"/><text x="510" y="584.5">E</text></g>
<g id="r326"><circle cx="502" cy="596" r="8.3"/><text x="502" y="600.5">Y</text></g>
<g id="r327"><circle cx="491" cy="608" r="8.3"/><text x="491" y="612.5">M</text></g>
<g id="r328"><circle cx="479" cy="620" r="8.3"/><text x="479" y="624.5">F</text></g>
<g id="r329"><circle cx="465" cy="631" r="8.3"/><text x="465" y="635.5">C</text></g>
<g id="r330"><circle cx="471" cy="648" r="8.3"/><text x="471" y="652.5">A</text></g>
<g id="r331"><circle cx="488" cy="656" r="8.3"/><text x="488" y="660.5">G</text></g>
<g id="r332"><circle cx="504" cy="656" r="8.3"/><text x="504" y="660.5">Y</text></g>
<g id="r333"><circle cx="520" cy="656" r="8.3"/><text x="520" y="660.5">S</text></g>
<g id="r334"><circle cx="537" cy="656" r="8.3"/><text x="537" y="660.5">D</text></g>
<g id="r335"><circle cx="553" cy="656" r="8.3"/><text x="553" y="660.5">G</text></g>
<g id="r336"><circle cx="570" cy="656" r="8.3"/><text x="570" y="660.5">S</text></g>
<g id="r337"><circle cx="587" cy="656" r="8.3"/><text x="587" y="660.5">K</text></g>
<g id="r338"><circle cx="604" cy="656" r="8.3"/><text x="604" y="660.5">D</text></g>
<g id="r339"><circle cx="620" cy="648" r="8.3"/><text x="620" y="652.5">S</text></g>
<g id="r340"><circle cx="627" cy="631" r="8.3"/><text x="627" y="635.5">C</text></g>
<g id="r341"><circle cx="610" cy="621" r="8.3"/><text x="610" y="625.5">K</text></g>
<g id="r342"><circle cx="594" cy="614" r="8.3"/><text x="594" y="618.5">G</text></g>
<g id="r343"><circle cx="579" cy="605" r="8.3"/><text x="579" y="609.5">D</text></g>
<g id="r344"><circle cx="566" cy="594" r="8.3"/><text x="566" y="598.5">S</text></g>
<g id="r345"><circle cx="555" cy="581" r="8.3"/><text x="555" y="585.5">G</text></g>
<g id="r346"><circle cx="548" cy="566" r="8.3"/><text x="548" y="570.5">G</text></g>
<g id="r347"><circle cx="547" cy="550" r="8.3"/><text x="547" y="554.5">P</text></g>
<g id="r348"><circle cx="549" cy="533" r="8.3"/><text x="549" y="537.5">H</text></g>
<g id="r349"><circle cx="555" cy="517" r="8.3"/><text x="555" y="521.5">A</text></g>
<g id="r350"><circle cx="567" cy="503" r="8.3"/><text x="567" y="507.5">T</text></g>
<g id="r351"><circle cx="581" cy="491" r="8.3"/><text x="581" y="495.5">H</text></g>
<g id="r352"><circle cx="596" cy="482" r="8.3"/><text x="596" y="486.5">Y</text></g>
<g id="r353"><circle cx="612" cy="475" r="8.3"/><text x="612" y="479.5">R</text></g>
<g id="r354"><circle cx="629" cy="472" r="8.3"/><text x="629" y="476.5">G</text></g>
<g id="r355"><circle cx="645" cy="473" r="8.3"/><text x="645" y="477.5">T</text></g>
<g id="r356"><circle cx="662" cy="478" r="8.3"/><text x="662" y="482.5">W</text></g>
<g id="r357"><circle cx="677" cy="487" r="8.3"/><text x="677" y="491.5">Y</text></g>
<g id="r358"><circle cx="690" cy="497" r="8.3"/><text x="690" y="501.5">L</text></g>
<g id="r359"><circle cx="704" cy="507" r="8.3"/><text x="704" y="511.5">T</text></g>
<g id="r360"><circle cx="712" cy="523" r="8.3"/><text x="712" y="527.5">G</text></g>
<g id="r361"><circle cx="717" cy="539" r="8.3"/><text x="717" y="543.5">I</text></g>
<g id="r362"><circle cx="717" cy="556" r="8.3"/><text x="717" y="560.5">V</text></g>
<g id="r363"><circle cx="711" cy="572" r="8.3"/><text x="711" y="576.5">S</text></g>
<g id="r364"><circle cx="703" cy="588" r="8.3"/><text x="703" y="592.5">W</text></g>
<g id="r365"><circle cx="694" cy="601" r="8.3"/><text x="694" y="605.5">G</text></g>
<g id="r366"><circle cx="679" cy="611" r="8.3"/><text x="679" y="615.5">Q</text></g>
<g id="r367"><circle cx="664" cy="620" r="8.3"/><text x="664" y="624.5">G</text></g>
<g id="r368"><circle cx="650" cy="631" r="8.3"/><text x="650" y="635.5">C</text></g>
<g id="r369"><circle cx="653" cy="648" r="8.3"/><text x="653" y="652.5">A</text></g>
<g id="r370"><circle cx="670" cy="656" r="8.3"/><text x="670" y="660.5">T</text></g>
<g id="r371"><circle cx="687" cy="656" r="8.3"/><text x="687" y="660.5">V</text></g>
<g id="r372"><circle cx="705" cy="656" r="8.3"/><text x="705" y="660.5">G</text></g>
<g id="r373"><circle cx="722" cy="656" r="8.3"/><text x="722" y="660.5">H</text></g>
<g id="r374"><circle cx="738" cy="656" r="8.3"/><text x="738" y="660.5">F</text></g>
<g id="r375"><circle cx="755" cy="656" r="8.3"/><text x="755" y="660.5">G</text></g>
<g id="r376"><circle cx="762" cy="640" r="8.3"/><text x="762" y="644.5">V</text></g>
<g id="r377"><circle cx="773" cy="627" r="8.3"/><text x="773" y="631.5">Y</text></g>
<g id="r378"><circle cx="784" cy="614" r="8.3"/><text x="784" y="618.5">T</text></g>
<g id="r379"><circle cx="794" cy="601" r="8.3"/><text x="794" y="605.5">R</text></g>
<g id="r380"><circle cx="803" cy="588" r="8.3"/><text x="803" y="592.5">V</text></g>
<g id="r381"><circle cx="813" cy="574" r="8.3"/><text x="813" y="578.5">S</text></g>
<g id="r382"><circle cx="824" cy="560" r="8.3"/><text x="824" y="564.5">Q</text></g>
<g id="r383"><circle cx="835" cy="547" r="8.3"/><text x="835" y="551.5">Y</text></g>
<g id="r384"><circle cx="845" cy="534" r="8.3"/><text x="845" y="538.5">I</text></g>
<g id="r385"><circle cx="855" cy="521" r="8.3"/><text x="855" y="525.5">E</text></g>
<g id="r386"><circle cx="865" cy="508" r="8.3"/><text x="865" y="512.5">W</text></g>
<g id="r387"><circle cx="876" cy="495" r="8.3"/><text x="876" y="499.5">L</text></g>
<g id="r388"><circle cx="886" cy="481" r="8.3"/><text x="886" y="485.5">Q</text></g>
<g id="r389"><circle cx="895" cy="467" r="8.3"/><text x="895" y="471.5">K</text></g>
<g id="r390"><circle cx="906" cy="454" r="8.3"/><text x="906" y="458.5">L</text></g>
<g id="r391"><circle cx="922" cy="447" r="8.3"/><text x="922" y="451.5">M</text></g>
<g id="r392"><circle cx="934" cy="460" r="8.3"/><text x="934" y="464.5">R</text></g>
<g id="r393"><circle cx="936" cy="477" r="8.3"/><text x="936" y="481.5">S</text></g>
<g id="r394"><circle cx="928" cy="492" r="8.3"/><text x="928" y="496.5">E</text></g>
<g id="r395"><circle cx="918" cy="505" r="8.3"/><text x="918" y="509.5">P</text></g>
<g id="r396"><circle cx="908" cy="518" r="8.3"/><text x="908" y="522.5">R</text></g>
<g id="r397"><circle cx="898" cy="532" r="8.3"/><text x="898" y="536.5">P</text></g>
<g id="r398"><circle cx="889" cy="546" r="8.3"/><text x="889" y="550.5">G</text></g>
<g id="r399"><circle cx="880" cy="560" r="8.3"/><text x="880" y="564.5">V</text></g>
<g id="r400"><circle cx="870" cy="574" r="8.3"/><text x="870" y="578.5">L</text></g>
<g id="r401"><circle cx="860" cy="588" r="8.3"/><text x="860" y="592.5">L</text></g>
<g id="r402"><circle cx="850" cy="601" r="8.3"/><text x="850" y="605.5">R</text></g>
<g id="r403"><circle cx="840" cy="615" r="8.3"/><text x="840" y="619.5">A</text></g>
<g id="r404"><circle cx="830" cy="629" r="8.3"/><text x="830" y="633.5">P</text></g>
<g id="r405"><circle cx="821" cy="643" r="8.3"/><text x="821" y="647.5">F</text></g>
<g id="r406"><circle cx="810" cy="656" r="8.3"/><text x="810" y="660.5">P</text></g>
</g>
</svg>
